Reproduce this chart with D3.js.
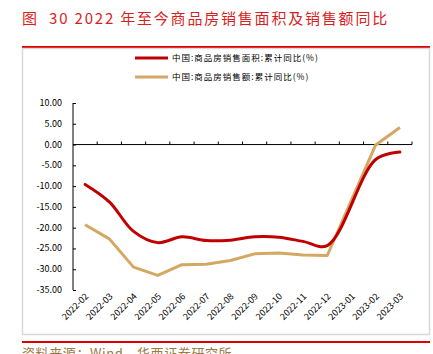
<!DOCTYPE html>
<html>
<head>
<meta charset="utf-8">
<script src="https://cdn.jsdelivr.net/npm/d3@7"></script>
<style>
  body { margin: 0; background: #fff; }
  svg { display: block; font-family: "Noto Sans CJK SC", "Noto Sans", sans-serif; }
</style>
</head>
<body>
<div id="chart"></div>
<script>
// dados (2023-01 sem dado)
var months = ["2022-02", "2022-03", "2022-04", "2022-05", "2022-06", "2022-07", "2022-08",
              "2022-09", "2022-10", "2022-11", "2022-12", "2023-01", "2023-02", "2023-03"];
var areaYoY = [-9.6, -13.8, -20.9, -23.6, -22.2, -23.1, -23.0, -22.2, -22.3, -23.3, -24.3, null, -3.6, -1.8];
var amountYoY = [-19.3, -22.7, -29.5, -31.5, -28.9, -28.8, -27.9, -26.3, -26.1, -26.6, -26.7, null, -0.1, 4.1];
var yTicks = [10, 5, 0, -5, -10, -15, -20, -25, -30, -35];
var seriesNames = ["中国:商品房销售面积:累计同比(%)", "中国:商品房销售额:累计同比(%)"];
var colors = ["#c00000", "#d4a862"];

var W = 433, H = 354;
var svg = d3.select("#chart").append("svg").attr("width", W).attr("height", H);

// titulo
svg.append("text")
    .attr("x", 22).attr("y", 24)
    .attr("fill", "#d81e1e")
    .attr("font-size", 15)
    .attr("letter-spacing", 1.8)
    .attr("xml:space", "preserve")
    .text("图  30 2022 年至今商品房销售面积及销售额同比");
svg.append("line").attr("x1", 22).attr("x2", 430).attr("y1", 47).attr("y2", 47)
    .attr("stroke", "#e00000").attr("stroke-width", 2);

// moldura
svg.append("rect").attr("x", 22.5).attr("y", 48.5).attr("width", 407).attr("height", 286)
    .attr("fill", "none").attr("stroke", "#d9d9d9").attr("stroke-width", 1.5);

// rodape
svg.append("line").attr("x1", 22).attr("x2", 430).attr("y1", 342).attr("y2", 342)
    .attr("stroke", "#e00000").attr("stroke-width", 2);
svg.append("text")
    .attr("x", 22).attr("y", 358)
    .attr("fill", "#9a7a45")
    .attr("font-size", 13)
    .attr("letter-spacing", 0.6)
    .text("资料来源：Wind，华西证券研究所");

// escalas
var x = d3.scaleBand().domain(months).range([73, 412]);
var y = d3.scaleLinear().domain([-35, 10]).range([290, 103]);

// eixo y
var yAxis = svg.append("g").attr("transform", "translate(73,0)")
    .call(d3.axisRight(y).tickValues(yTicks).tickSize(3).tickFormat(""));
yAxis.select(".domain").attr("stroke", "#000").attr("d", "M0," + y(10) + "V" + y(-35));
yAxis.selectAll(".tick line").attr("stroke", "#000");

svg.append("g").selectAll("text").data(yTicks).enter().append("text")
    .attr("x", 62).attr("y", function(d) { return y(d) + 3; })
    .attr("text-anchor", "end")
    .attr("font-size", 9)
    .attr("fill", "#000")
    .text(function(d) { return d3.format(".2f")(d).replace("−", "-"); });

// eixo x no zero
var bounds = months.slice(1).map(function(m) { return x(m); }).concat([x.range()[1]]);
var xAxis = svg.append("g");
xAxis.append("line").attr("x1", 73).attr("x2", 412).attr("y1", y(0)).attr("y2", y(0))
    .attr("stroke", "#000").attr("stroke-width", 1);
xAxis.selectAll(".tk").data(bounds).enter().append("line")
    .attr("x1", function(d) { return d; }).attr("x2", function(d) { return d; })
    .attr("y1", y(0)).attr("y2", y(0) - 3)
    .attr("stroke", "#000");

svg.append("g").selectAll("text").data(months).enter().append("text")
    .attr("transform", function(d) {
        return "translate(" + (x(d) + x.bandwidth() / 2 + 4) + ",297) rotate(-45)";
    })
    .attr("text-anchor", "end")
    .attr("font-size", 9)
    .attr("fill", "#000")
    .text(function(d) { return d; });

// linhas
function pts(vals) {
    return months.map(function(m, i) { return [m, vals[i]]; })
        .filter(function(p) { return p[1] !== null; });
}
var lineSmooth = d3.line()
    .x(function(d) { return x(d[0]) + x.bandwidth() / 2; })
    .y(function(d) { return y(d[1]); })
    .curve(d3.curveCatmullRom.alpha(0.5));
var lineStraight = d3.line()
    .x(function(d) { return x(d[0]) + x.bandwidth() / 2; })
    .y(function(d) { return y(d[1]); });

svg.append("path").datum(pts(amountYoY))
    .attr("d", lineStraight)
    .attr("fill", "none").attr("stroke", colors[1]).attr("stroke-width", 3)
    .attr("stroke-linejoin", "round");
svg.append("path").datum(pts(areaYoY))
    .attr("d", lineSmooth)
    .attr("fill", "none").attr("stroke", colors[0]).attr("stroke-width", 3)
    .attr("stroke-linecap", "round");

// legenda
var legend = svg.append("g");
seriesNames.forEach(function(name, i) {
    var ly = 58 + i * 19;
    legend.append("line").attr("x1", 135).attr("x2", 168).attr("y1", ly).attr("y2", ly)
        .attr("stroke", colors[i]).attr("stroke-width", 3);
    legend.append("text").attr("x", 172).attr("y", ly + 3)
        .attr("font-size", 8.5).attr("fill", "#000")
        .attr("letter-spacing", 1)
        .text(name);
});
</script>
</body>
</html>
